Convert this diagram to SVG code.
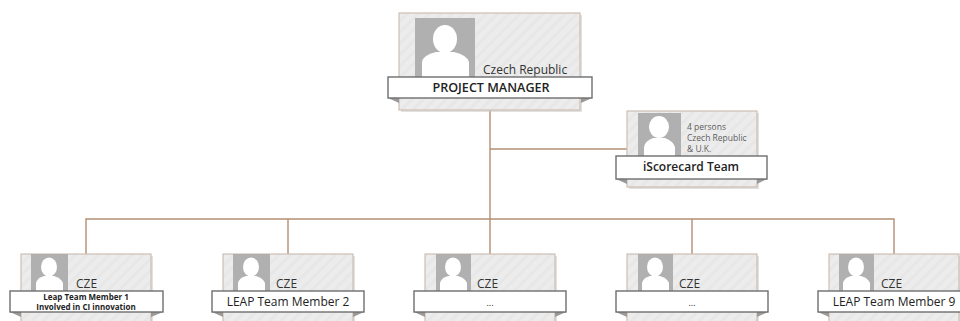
<svg xmlns="http://www.w3.org/2000/svg" width="960" height="321" viewBox="0 0 960 321">
<style>
.card{fill:url(#hatch);stroke:#cdbfb4;stroke-width:1.2}
.shadow{fill:#c9c9c9;opacity:.55}
.photo{fill:#b0b0b0}
.person{fill:#fff}
.banner{fill:#fff;stroke:#6e6e6e;stroke-width:1.4}
.fold{fill:#9a9a9a}
.t{font-family:"Open Sans","Liberation Sans",sans-serif;fill:#222;text-anchor:middle}
.s{font-family:"Open Sans","Liberation Sans",sans-serif;fill:#333}
.conn{fill:none;stroke:#b38e73;stroke-width:1.4}
</style>
<defs>
<pattern id="hatch" width="8" height="8" patternUnits="userSpaceOnUse" patternTransform="rotate(-45)">
<rect width="8" height="8" fill="#ececec"/>
<rect width="8" height="3" fill="#e7e7e7"/>
</pattern>
</defs>
<rect width="960" height="321" fill="#fff"/>
<g id="connectors">
<path class="conn" d="M490 110V219M490 149H627M86 254V219H894V254M288 219V254M490 219V254M692 219V254"/>
</g>
<g id="node-pm">
<rect class="shadow" x="401" y="15" width="181" height="97"/>
<rect class="card" x="399" y="13" width="181" height="97"/>
<rect class="photo" x="415" y="18" width="60" height="60"/>
<ellipse class="person" cx="445" cy="39" rx="12" ry="14"/>
<path class="person" d="M422 78V62Q423 55 436 52H454Q467 55 469 62V78Z"/>
<text class="s" x="483" y="74" font-size="12">Czech Republic</text>
<path class="fold" d="M388 98L399 103V98ZM592 98L581 103V98Z"/>
<rect class="banner" x="388" y="77" width="204" height="21"/>
<text class="t" x="491" y="92" font-size="12.600" font-weight="600">PROJECT MANAGER</text>
</g>
<g id="node-iscorecard">
<rect class="shadow" x="629" y="113" width="130" height="76"/>
<rect class="card" x="627" y="111" width="130" height="76"/>
<rect class="photo" x="638" y="113" width="43" height="44"/>
<ellipse class="person" cx="659" cy="127" rx="10" ry="11"/>
<path class="person" d="M644 157V147Q645 141 653 138H665Q673 141 675 147V157Z"/>
<text class="s" x="687" y="130" font-size="8.500" fill-opacity=".8">4 persons</text>
<text class="s" x="687" y="141" font-size="8.500" fill-opacity=".8">Czech Republic</text>
<text class="s" x="687" y="152" font-size="8.500" fill-opacity=".8">&amp; U.K.</text>
<path class="fold" d="M616 179L627 184V179ZM767 179L757 184V179Z"/>
<rect class="banner" x="616" y="156" width="151" height="23"/>
<text class="t" x="691" y="171" font-size="12" font-weight="600">iScorecard Team</text>
</g>
<g id="node-member1">
<rect class="shadow" x="23" y="256" width="130" height="65"/>
<rect class="card" x="21" y="254" width="130" height="68"/>
<rect class="photo" x="31" y="254" width="37" height="37"/>
<ellipse class="person" cx="49" cy="267" rx="8" ry="9.500"/>
<path class="person" d="M36 291V283Q37 278 44 276H54Q61 278 63 283V291Z"/>
<text class="s" x="76" y="288" font-size="12">CZE</text>
<path class="fold" d="M10 312L21 317V312ZM163 312L151 317V312Z"/>
<rect class="banner" x="10" y="291" width="153" height="21"/>
<text class="t" x="86" y="299.500" font-size="8" font-weight="700">Leap Team Member 1</text>
<text class="t" x="86" y="310" font-size="8" font-weight="700">Involved in CI innovation</text>
</g>
<g id="node-member2">
<rect class="shadow" x="225" y="256" width="130" height="65"/>
<rect class="card" x="223" y="254" width="130" height="68"/>
<rect class="photo" x="233" y="254" width="37" height="37"/>
<ellipse class="person" cx="251" cy="267" rx="8" ry="9.500"/>
<path class="person" d="M238 291V283Q239 278 246 276H256Q263 278 265 283V291Z"/>
<text class="s" x="276" y="288" font-size="12">CZE</text>
<path class="fold" d="M212 312L223 317V312ZM364 312L353 317V312Z"/>
<rect class="banner" x="212" y="291" width="152" height="21"/>
<text class="t" x="288" y="306" font-size="12">LEAP Team Member 2</text>
</g>
<g id="node-member3">
<rect class="shadow" x="427" y="256" width="130" height="65"/>
<rect class="card" x="425" y="254" width="130" height="68"/>
<rect class="photo" x="436" y="254" width="35" height="37"/>
<ellipse class="person" cx="453" cy="267" rx="8" ry="9.500"/>
<path class="person" d="M440 291V283Q441 278 448 276H458Q465 278 467 283V291Z"/>
<text class="s" x="477" y="288" font-size="12">CZE</text>
<path class="fold" d="M414 312L425 317V312ZM566 312L555 317V312Z"/>
<rect class="banner" x="414" y="291" width="152" height="21"/>
<text class="t" x="490" y="306" font-size="9">...</text>
</g>
<g id="node-member4">
<rect class="shadow" x="629" y="256" width="130" height="65"/>
<rect class="card" x="627" y="254" width="130" height="68"/>
<rect class="photo" x="638" y="254" width="35" height="37"/>
<ellipse class="person" cx="655" cy="267" rx="8" ry="9.500"/>
<path class="person" d="M642 291V283Q643 278 650 276H660Q667 278 669 283V291Z"/>
<text class="s" x="679" y="288" font-size="12">CZE</text>
<path class="fold" d="M616 312L627 317V312ZM768 312L757 317V312Z"/>
<rect class="banner" x="616" y="291" width="152" height="21"/>
<text class="t" x="692" y="306" font-size="9">...</text>
</g>
<g id="node-member9">
<rect class="shadow" x="831" y="256" width="129" height="65"/>
<rect class="card" x="829" y="254" width="130" height="68"/>
<rect class="photo" x="839" y="254" width="35" height="37"/>
<ellipse class="person" cx="856" cy="267" rx="8" ry="9.500"/>
<path class="person" d="M843 291V283Q844 278 851 276H861Q868 278 870 283V291Z"/>
<text class="s" x="881" y="288" font-size="12">CZE</text>
<path class="fold" d="M818 312L829 317V312Z"/>
<rect class="banner" x="818" y="291" width="153" height="21"/>
<text class="t" x="894" y="306" font-size="12">LEAP Team Member 9</text>
</g>
</svg>
